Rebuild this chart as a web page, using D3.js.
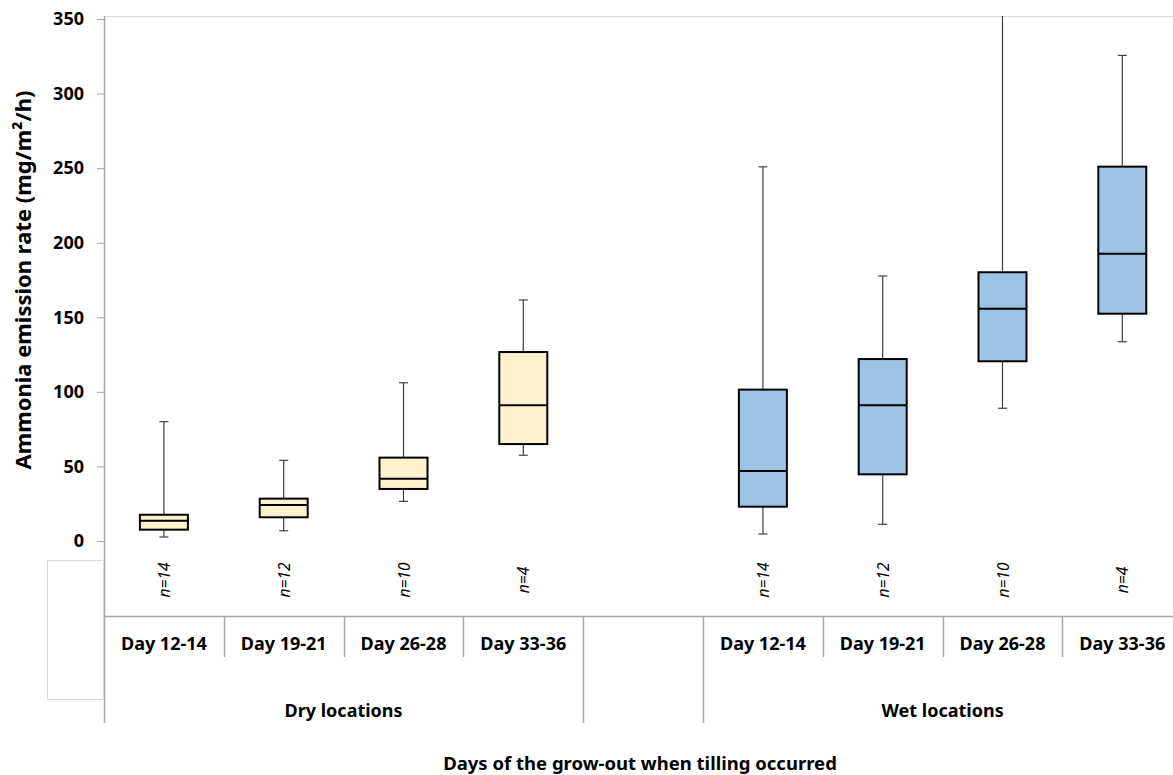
<!DOCTYPE html>
<html>
<head>
<meta charset="utf-8">
<script src="https://cdn.jsdelivr.net/npm/d3@7"></script>
<style>
  body { margin: 0; background: #fff; }
  text { font-family: "Noto Sans", "Open Sans", sans-serif; }
</style>
</head>
<body>
<svg id="chart" width="1173" height="775"></svg>
<script>
// categories, in display order (one empty slot between the two groups)
const categories = ["d1", "d2", "d3", "d4", "gap", "w1", "w2", "w3", "w4"];
const dayLabels = ["Day 12-14", "Day 19-21", "Day 26-28", "Day 33-36", "", "Day 12-14", "Day 19-21", "Day 26-28", "Day 33-36"];
const nLabels = ["n=14", "n=12", "n=10", "n=4", "", "n=14", "n=12", "n=10", "n=4"];
const groups = ["Dry locations", "Wet locations"];

// box stats: min, q1, median, q3, max
const dryStats = [
  [2.7, 7.6, 13.6, 17.6, 80.0],
  [6.9, 15.9, 24.1, 28.4, 54.1],
  [26.6, 34.9, 41.8, 55.9, 106.1],
  [57.5, 65.0, 91.0, 126.7, 161.6]
];
const wetStats = [
  [4.7, 23.0, 46.9, 101.5, 250.9],
  [11.2, 44.7, 91.0, 122.0, 177.7],
  [89.0, 120.5, 155.8, 180.2, 365],
  [133.6, 152.4, 192.6, 251.0, 325.6]
];
const yTicks = [0, 50, 100, 150, 200, 250, 300, 350];

const dryFill = "#fff2cc", wetFill = "#9dc3e6";

const svg = d3.select("#chart");
const plotLeft = 104, plotTop = 16, zeroY = 541, topY = 19;
const bandW = 119.8;

const x = d3.scaleBand()
  .domain(categories)
  .range([plotLeft, plotLeft + bandW * categories.length])
  .padding(0);

const y = d3.scaleLinear().domain([0, 350]).range([zeroY, topY]);

// clip for the plot area (wet day 26-28 whisker runs off the top)
svg.append("defs").append("clipPath").attr("id", "plotClip")
  .append("rect").attr("x", plotLeft).attr("y", plotTop).attr("width", 1173 - plotLeft).attr("height", 600);

// top border of plot area
svg.append("line")
  .attr("x1", plotLeft).attr("x2", 1173).attr("y1", plotTop + 0.5).attr("y2", plotTop + 0.5)
  .attr("stroke", "#d9d9d9").attr("stroke-width", 1);

// y axis
const yAxis = d3.axisLeft(y).tickValues(yTicks).tickSize(7).tickPadding(13);
const gy = svg.append("g").attr("transform", "translate(" + plotLeft + ",0)").call(yAxis);
gy.select(".domain").remove();
gy.selectAll(".tick line").attr("stroke", "#a6a6a6");
gy.selectAll(".tick text")
  .attr("fill", "#000").style("font-size", "18px").style("font-weight", "bold")
  .style("font-family", "'Noto Sans', sans-serif");

// axis line running down through the table
svg.append("line")
  .attr("x1", plotLeft + 0.5).attr("x2", plotLeft + 0.5).attr("y1", plotTop).attr("y2", 723)
  .attr("stroke", "#a6a6a6").attr("stroke-width", 1.5);

// blank table header box on the left
svg.append("rect")
  .attr("x", 47.5).attr("y", 560.5).attr("width", 56).attr("height", 139)
  .attr("fill", "none").attr("stroke", "#d9d9d9");

// box plots
const boxes = [];
dryStats.forEach(function (s, i) { boxes.push({ cat: categories[i], s: s, fill: dryFill }); });
wetStats.forEach(function (s, i) { boxes.push({ cat: categories[i + 5], s: s, fill: wetFill }); });

const boxW = 48, capW = 9;
const plot = svg.append("g").attr("clip-path", "url(#plotClip)");
const bx = plot.selectAll("g.box").data(boxes).enter().append("g").attr("class", "box");

bx.each(function (d) {
  const g = d3.select(this);
  const cx = x(d.cat) + x.bandwidth() / 2;
  // whiskers
  g.append("line").attr("x1", cx).attr("x2", cx).attr("y1", y(d.s[4])).attr("y2", y(d.s[3]))
    .attr("stroke", "#404040").attr("stroke-width", 1.2);
  g.append("line").attr("x1", cx).attr("x2", cx).attr("y1", y(d.s[1])).attr("y2", y(d.s[0]))
    .attr("stroke", "#404040").attr("stroke-width", 1.2);
  g.append("line").attr("x1", cx - capW / 2).attr("x2", cx + capW / 2).attr("y1", y(d.s[4])).attr("y2", y(d.s[4]))
    .attr("stroke", "#404040").attr("stroke-width", 1.2);
  g.append("line").attr("x1", cx - capW / 2).attr("x2", cx + capW / 2).attr("y1", y(d.s[0])).attr("y2", y(d.s[0]))
    .attr("stroke", "#404040").attr("stroke-width", 1.2);
  // box
  g.append("rect")
    .attr("x", cx - boxW / 2).attr("y", y(d.s[3]))
    .attr("width", boxW).attr("height", y(d.s[1]) - y(d.s[3]))
    .attr("fill", d.fill).attr("stroke", "#000").attr("stroke-width", 2);
  g.append("line").attr("x1", cx - boxW / 2).attr("x2", cx + boxW / 2).attr("y1", y(d.s[2])).attr("y2", y(d.s[2]))
    .attr("stroke", "#000").attr("stroke-width", 2);
});

// table below the plot
const rowTop = 616, dayBottom = 657, tableBottom = 723;
svg.append("line")
  .attr("x1", plotLeft).attr("x2", 1173).attr("y1", rowTop + 0.5).attr("y2", rowTop + 0.5)
  .attr("stroke", "#a6a6a6").attr("stroke-width", 1.5);

categories.forEach(function (c, i) {
  if (i === 0) return;
  const xx = Math.round(x(c)) + 0.5;
  const full = (c === "gap" || c === "w1");
  svg.append("line")
    .attr("x1", xx).attr("x2", xx).attr("y1", rowTop).attr("y2", full ? tableBottom : dayBottom)
    .attr("stroke", "#a6a6a6").attr("stroke-width", 1.5);
});

// n labels (rotated, italic)
svg.selectAll("text.n").data(categories.filter(function (c, i) { return nLabels[i] !== ""; }))
  .enter().append("text").attr("class", "n")
  .attr("transform", function (c) {
    return "translate(" + (x(c) + x.bandwidth() / 2 + 6) + ",580) rotate(-90)";
  })
  .attr("text-anchor", "middle")
  .style("font-size", "15.5px").style("font-style", "italic").attr("fill", "#000")
  .text(function (c) { return nLabels[categories.indexOf(c)]; });

// day labels
svg.selectAll("text.day").data(categories.filter(function (c, i) { return dayLabels[i] !== ""; }))
  .enter().append("text").attr("class", "day")
  .attr("x", function (c) { return x(c) + x.bandwidth() / 2; })
  .attr("y", 650)
  .attr("text-anchor", "middle")
  .style("font-size", "18px").style("font-weight", "bold")
  .text(function (c) { return dayLabels[categories.indexOf(c)]; });

// group labels
const groupSpans = [["d1", "d4"], ["w1", "w4"]];
svg.selectAll("text.grp").data(groups).enter().append("text").attr("class", "grp")
  .attr("x", function (g, i) {
    const a = x(groupSpans[i][0]), b = x(groupSpans[i][1]) + x.bandwidth();
    return (a + b) / 2;
  })
  .attr("y", 717)
  .attr("text-anchor", "middle")
  .style("font-size", "18px").style("font-weight", "bold")
  .text(function (g) { return g; });

// axis titles
svg.append("text")
  .attr("x", 640).attr("y", 770)
  .attr("text-anchor", "middle")
  .style("font-size", "18.5px").style("font-weight", "bold")
  .text("Days of the grow-out when tilling occurred");

svg.append("text")
  .attr("transform", "translate(31,280) rotate(-90)")
  .attr("text-anchor", "middle")
  .style("font-size", "22px").style("font-weight", "bold")
  .text("Ammonia emission rate (mg/m²/h)");
</script>
</body>
</html>
